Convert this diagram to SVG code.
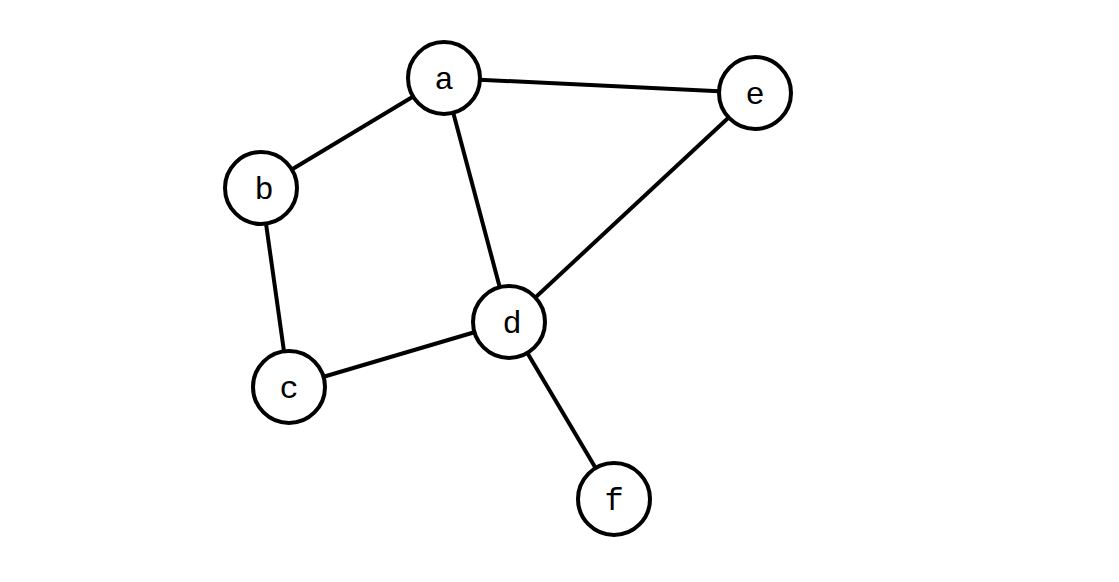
<svg xmlns="http://www.w3.org/2000/svg" width="1119" height="582" viewBox="0 0 1119 582">
<style>
.n circle{fill:#fff;stroke:#000;stroke-width:4}
.n text{font-family:"Courier New","Nimbus Mono PS","FreeMono","Liberation Mono",monospace;font-size:32px;text-anchor:middle;fill:#000}
.e line{stroke:#000;stroke-width:4}
</style>
<rect width="1119" height="582" fill="#fff"/>
<g class="e">
<line x1="444" y1="78" x2="755" y2="93"/>
<line x1="444" y1="78" x2="261" y2="188"/>
<line x1="444" y1="78" x2="509" y2="322"/>
<line x1="755" y1="93" x2="509" y2="322"/>
<line x1="261" y1="188" x2="289" y2="387"/>
<line x1="289" y1="387" x2="509" y2="322"/>
<line x1="509" y1="322" x2="614" y2="499"/>
</g>
<g id="a" class="n"><circle cx="444" cy="78" r="36"/><text x="444" y="89">a</text></g>
<g id="e" class="n"><circle cx="755" cy="93" r="36"/><text x="755" y="104">e</text></g>
<g id="b" class="n"><circle cx="261" cy="188" r="36"/><text x="264" y="199">b</text></g>
<g id="d" class="n"><circle cx="509" cy="322" r="36"/><text x="512" y="333">d</text></g>
<g id="c" class="n"><circle cx="289" cy="387" r="36"/><text x="289" y="398">c</text></g>
<g id="f" class="n"><circle cx="614" cy="499" r="36"/><text x="614" y="510">f</text></g>
</svg>
